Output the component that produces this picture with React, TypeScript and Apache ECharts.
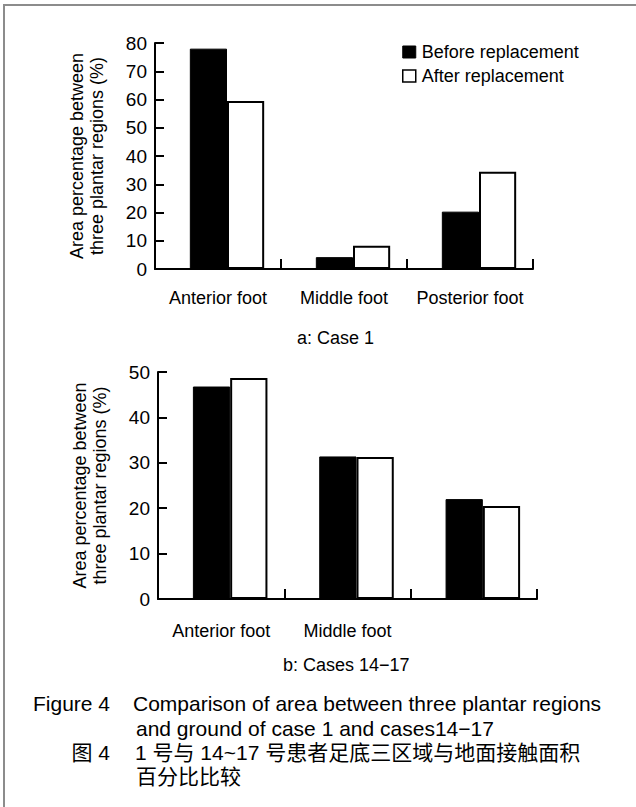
import React, { useEffect, useRef } from "react";
import * as echarts from "echarts";

const categories = ["Anterior foot", "Middle foot", "Posterior foot"];
const bottomCategoryLabels = ["Anterior foot", "Middle foot", ""];
const seriesNames = ["Before replacement", "After replacement"];
const case1Before = [78, 4.2, 20.3];
const case1After = [59.5, 8.2, 34.4];
const cases1417Before = [46.8, 31.4, 22.0];
const cases1417After = [48.7, 31.3, 20.5];
const case1Ticks = [0, 10, 20, 30, 40, 50, 60, 70, 80];
const cases1417Ticks = [0, 10, 20, 30, 40, 50];
const yTitle = "Area percentage between\nthree plantar regions (%)";
const captionA = "a: Case 1";
const captionB = "b: Cases 14\u221217";
const figLabelEn = "Figure 4";
const figTitleEn1 = "Comparison of area between three plantar regions";
const figTitleEn2 = "and ground of case 1 and cases14\u221217";
const figLabelZh = "图 4";
const figTitleZh1 = "1 号与 14~17 号患者足底三区域与地面接触面积";
const figTitleZh2 = "百分比比较";

const FONT = '"Liberation Sans", Arial, sans-serif';
const CJK = '"Liberation Sans", "Noto Sans CJK SC", sans-serif';

function visibleX(gridIndex: number, data: string[], margin: number) {
  return {
    type: "category",
    gridIndex,
    data,
    boundaryGap: true,
    axisLine: { show: true, lineStyle: { color: "#000", width: 2 } },
    axisTick: { show: true, inside: true, length: 10, lineStyle: { color: "#000", width: 2 } },
    axisLabel: { interval: 0, margin, fontSize: 18, color: "#000", fontFamily: FONT },
    splitLine: { show: false },
  };
}

function visibleY(gridIndex: number, max: number, ticks: number[]) {
  return {
    type: "value",
    gridIndex,
    min: 0,
    max,
    interval: 10,
    name: yTitle,
    nameLocation: "middle",
    nameGap: 48,
    nameRotate: 90,
    nameTextStyle: { fontSize: 18, lineHeight: 20, color: "#000", fontFamily: FONT },
    axisLine: { show: true, lineStyle: { color: "#000", width: 2 } },
    axisTick: { show: true, inside: true, length: 9, lineStyle: { color: "#000", width: 2 }, customValues: ticks },
    axisLabel: { margin: 8, fontSize: 19, color: "#000", fontFamily: FONT, customValues: ticks },
    splitLine: { show: false },
  };
}

function hiddenX(gridIndex: number) {
  return { type: "category", gridIndex, data: categories, show: false, boundaryGap: true };
}
function hiddenY(gridIndex: number, max: number) {
  return { type: "value", gridIndex, min: 0, max, show: false, splitLine: { show: false } };
}

function barSeries(name: string, data: number[], axisIndex: number, before: boolean) {
  return {
    type: "bar",
    name,
    data,
    xAxisIndex: axisIndex,
    yAxisIndex: axisIndex,
    barGap: "0%",
    barCategoryGap: "41%",
    itemStyle: before
      ? { color: "#000", borderColor: "#000", borderWidth: 1 }
      : { color: "#fff", borderColor: "#000", borderWidth: 2 },
    emphasis: { disabled: true },
  };
}

function txt(text: string, x: number, y: number, align: string, size: number, family = FONT) {
  return {
    type: "text",
    x,
    y,
    style: {
      text,
      textAlign: align,
      textVerticalAlign: "middle",
      fontSize: size,
      fontFamily: family,
      fill: "#000",
    },
  };
}

export default function App() {
  const ref = useRef<HTMLDivElement>(null);
  useEffect(() => {
    if (!ref.current) return;
    const chart = echarts.init(ref.current, undefined, { renderer: "svg" });
    chart.setOption({
      animation: false,
      backgroundColor: "#fff",
      grid: [
        { left: 155, top: 43, width: 378, height: 226 },
        { left: 164, top: 43, width: 378, height: 226 },
        { left: 158, top: 372, width: 379, height: 227 },
        { left: 167, top: 372, width: 379, height: 227 },
      ],
      legend: {
        orient: "vertical",
        left: 402,
        top: 42,
        itemWidth: 13,
        itemHeight: 12,
        itemGap: 4,
        padding: 0,
        icon: "rect",
        textStyle: { fontSize: 18, lineHeight: 20, color: "#000", fontFamily: FONT, padding: [0, 0, 0, 1] },
        data: [
          { name: seriesNames[0], itemStyle: { color: "#000", borderColor: "#000", borderWidth: 1 } },
          { name: seriesNames[1], itemStyle: { color: "#fff", borderColor: "#000", borderWidth: 1.5 } },
        ],
        selectedMode: false,
      },
      xAxis: [
        visibleX(0, categories, 20),
        hiddenX(1),
        visibleX(2, bottomCategoryLabels, 23),
        hiddenX(3),
      ],
      yAxis: [
        visibleY(0, 80, case1Ticks),
        hiddenY(1, 80),
        visibleY(2, 50, cases1417Ticks),
        hiddenY(3, 50),
      ],
      series: [
        barSeries(seriesNames[0], case1Before, 1, true),
        barSeries(seriesNames[1], case1After, 1, false),
        barSeries(seriesNames[0], cases1417Before, 3, true),
        barSeries(seriesNames[1], cases1417After, 3, false),
      ],
      graphic: [
        { type: "line", shape: { x1: 4, y1: 5, x2: 636, y2: 5 }, style: { stroke: "#8c8c8c", lineWidth: 2 } },
        { type: "line", shape: { x1: 4, y1: 4, x2: 4, y2: 807 }, style: { stroke: "#8c8c8c", lineWidth: 2 } },
        txt(captionA, 297, 338, "left", 18),
        txt(captionB, 283, 665, "left", 18),
        txt(figLabelEn, 110, 703, "right", 21),
        txt(figTitleEn1, 133, 703, "left", 21),
        txt(figTitleEn2, 136, 728, "left", 21),
        txt(figLabelZh, 110, 752, "right", 21, CJK),
        txt(figTitleZh1, 135, 752, "left", 21, CJK),
        txt(figTitleZh2, 136, 776, "left", 21, CJK),
      ],
    });
    return () => chart.dispose();
  }, []);
  return (
    <div style={{ position: "absolute", left: 0, top: 0, width: 636, height: 807, background: "#fff" }}>
      <div ref={ref} style={{ width: 636, height: 807 }} />
    </div>
  );
}
